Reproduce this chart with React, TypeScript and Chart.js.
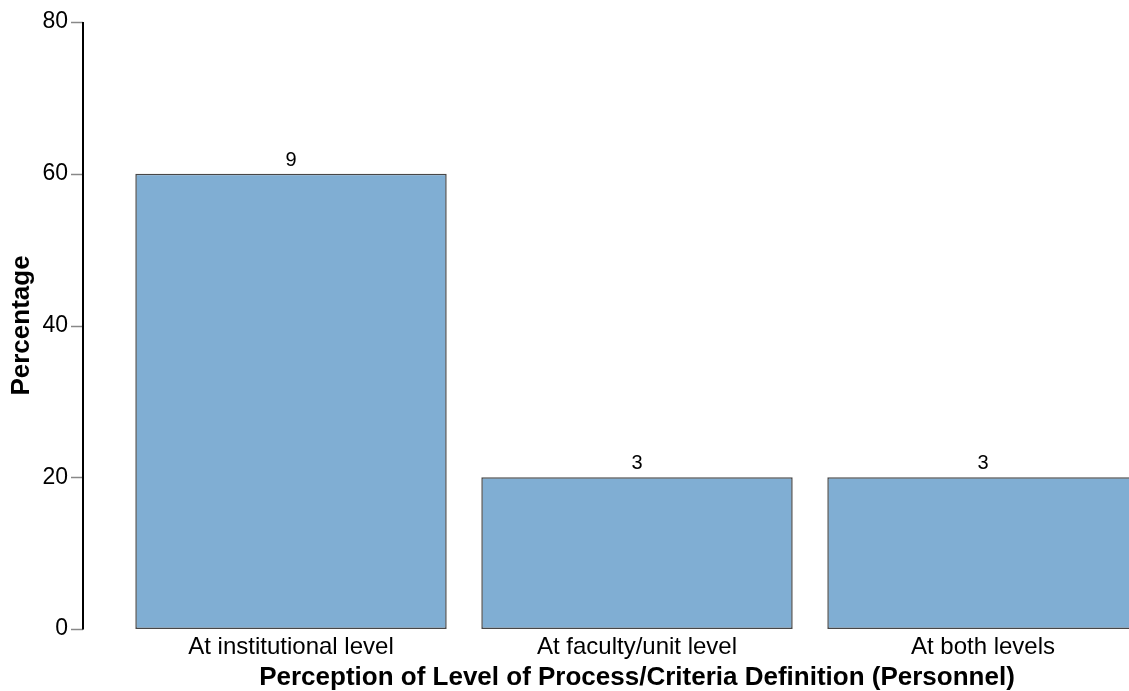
import React, { useEffect, useRef } from "react";
import { Chart, registerables } from "chart.js";

Chart.register(...registerables);

const categories = ["At institutional level", "At faculty/unit level", "At both levels"];
const percentages = [60, 20, 20];
const counts = [9, 3, 3];
const yTicks = [0, 20, 40, 60, 80];

const FONT = "'Liberation Sans', Arial, Helvetica, sans-serif";
const AXIS_X = 83;

// Detached y axis: vertical line and tick marks drawn left of the plotting area
const offsetAxisPlugin = {
  id: "offsetAxis",
  afterDraw(chart: any) {
    const { ctx } = chart;
    const y = chart.scales.y;
    ctx.save();
    ctx.strokeStyle = "#888888";
    ctx.lineWidth = 1.5;
    for (const v of yTicks) {
      const py = Math.round(y.getPixelForValue(v)) + 0.5;
      ctx.beginPath();
      ctx.moveTo(AXIS_X - 12, py);
      ctx.lineTo(AXIS_X, py);
      ctx.stroke();
    }
    ctx.strokeStyle = "#000000";
    ctx.lineWidth = 2;
    ctx.beginPath();
    ctx.moveTo(AXIS_X, y.getPixelForValue(yTicks[yTicks.length - 1]));
    ctx.lineTo(AXIS_X, y.getPixelForValue(0) + 0.5);
    ctx.stroke();
    ctx.restore();
  },
};

// Respondent counts written above each bar
const countLabelPlugin = {
  id: "countLabels",
  afterDatasetsDraw(chart: any) {
    const { ctx } = chart;
    const meta = chart.getDatasetMeta(0);
    ctx.save();
    ctx.font = `20px ${FONT}`;
    ctx.fillStyle = "#000000";
    ctx.textAlign = "center";
    ctx.textBaseline = "alphabetic";
    meta.data.forEach((bar: any, i: number) => {
      ctx.fillText(String(counts[i]), bar.x, bar.y - 8);
    });
    ctx.restore();
  },
};

export default function App() {
  const canvasRef = useRef<HTMLCanvasElement | null>(null);

  useEffect(() => {
    if (!canvasRef.current) return;
    const chart = new Chart(canvasRef.current, {
      type: "bar",
      data: {
        labels: categories,
        datasets: [
          {
            data: percentages,
            backgroundColor: "#80AED3",
            borderColor: "#474747",
            borderWidth: 1.5,
            borderSkipped: false,
            barPercentage: 0.9,
            categoryPercentage: 1,
          },
        ],
      },
      options: {
        responsive: false,
        animation: false,
        layout: { padding: { top: 22, right: 4, bottom: 0, left: 0 } },
        plugins: {
          legend: { display: false },
          tooltip: { enabled: false },
        },
        scales: {
          x: {
            grid: { display: false, drawTicks: false },
            border: { display: false },
            ticks: {
              color: "#000000",
              font: { family: FONT, size: 24 },
              padding: 4,
              maxRotation: 0,
            },
            title: {
              display: true,
              text: "Perception of Level of Process/Criteria Definition (Personnel)",
              color: "#000000",
              font: { family: FONT, size: 26, weight: "bold" },
              padding: { top: 0, bottom: -2 },
            },
            afterFit(scale: any) {
              scale.height = 62;
            },
          },
          y: {
            min: 0,
            max: 80,
            afterBuildTicks(scale: any) {
              scale.ticks = yTicks.map((v) => ({ value: v }));
            },
            grid: { display: false, drawTicks: false },
            border: { display: false },
            ticks: {
              color: "#000000",
              font: { family: FONT, size: 23 },
              padding: 50,
            },
            title: {
              display: true,
              text: "Percentage",
              color: "#000000",
              font: { family: FONT, size: 26, weight: "bold" },
              padding: { top: 6, bottom: 0 },
            },
            afterFit(scale: any) {
              scale.width = 118;
              scale.paddingTop = 0;
              scale.paddingBottom = 0;
            },
          },
        },
      },
      plugins: [offsetAxisPlugin, countLabelPlugin],
    });
    return () => chart.destroy();
  }, []);

  return (
    <div
      style={{
        position: "fixed",
        left: 0,
        top: 0,
        width: 1129,
        height: 691,
        overflow: "hidden",
        background: "#ffffff",
      }}
    >
      <canvas ref={canvasRef} width={1160} height={691} style={{ display: "block" }} />
    </div>
  );
}
